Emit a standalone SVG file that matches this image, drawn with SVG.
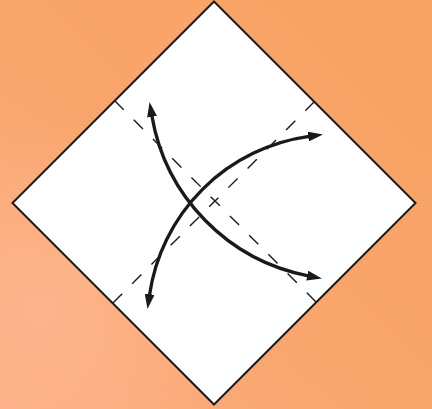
<svg xmlns="http://www.w3.org/2000/svg" width="432" height="409" viewBox="0 0 432 409">
  <defs>
    <linearGradient id="bg" x1="1" y1="0" x2="0" y2="1">
      <stop offset="0" stop-color="#F8A263"/>
      <stop offset="0.55" stop-color="#F9A66C"/>
      <stop offset="1" stop-color="#FCAF86"/>
    </linearGradient>
    <radialGradient id="glow" cx="0.1" cy="0.75" r="0.45">
      <stop offset="0" stop-color="#FDB690" stop-opacity="0.8"/>
      <stop offset="1" stop-color="#FDB690" stop-opacity="0"/>
    </radialGradient>
    <marker id="head" markerUnits="userSpaceOnUse" viewBox="0 -5 15 10" markerWidth="15" markerHeight="10" refX="1" refY="0" orient="auto-start-reverse">
      <path d="M0,-5 L15,0 L0,5 z" fill="#1a1a1a"/>
    </marker>
    <style>
      .paper { fill: #ffffff; stroke: #1a1a1a; stroke-width: 2; stroke-linejoin: miter; }
      .fold { fill: none; stroke: #1a1a1a; stroke-width: 1.4; stroke-dasharray: 13 14.2; }
      .arrow { fill: none; stroke: #1a1a1a; stroke-width: 3.3; marker-start: url(#head); marker-end: url(#head); }
    </style>
  </defs>
  <rect width="432" height="409" fill="url(#bg)"/>
  <rect width="432" height="409" fill="url(#glow)"/>
  <g id="paper">
    <polygon class="paper" points="214,1.5 415.5,203 214,404.5 12.5,203"/>
  </g>
  <g id="folds">
    <line class="fold" x1="114.5" y1="100.5" x2="316" y2="302"/>
    <line class="fold" x1="314.5" y1="101.5" x2="112.5" y2="303.5"/>
  </g>
  <g id="connectors">
    <path class="arrow" d="M151.9,115.9 A196.4,196.4 0 0 0 308.2,275.8"/>
    <path class="arrow" d="M149.5,295.1 A187,187 0 0 1 309.1,136.4"/>
  </g>
</svg>
